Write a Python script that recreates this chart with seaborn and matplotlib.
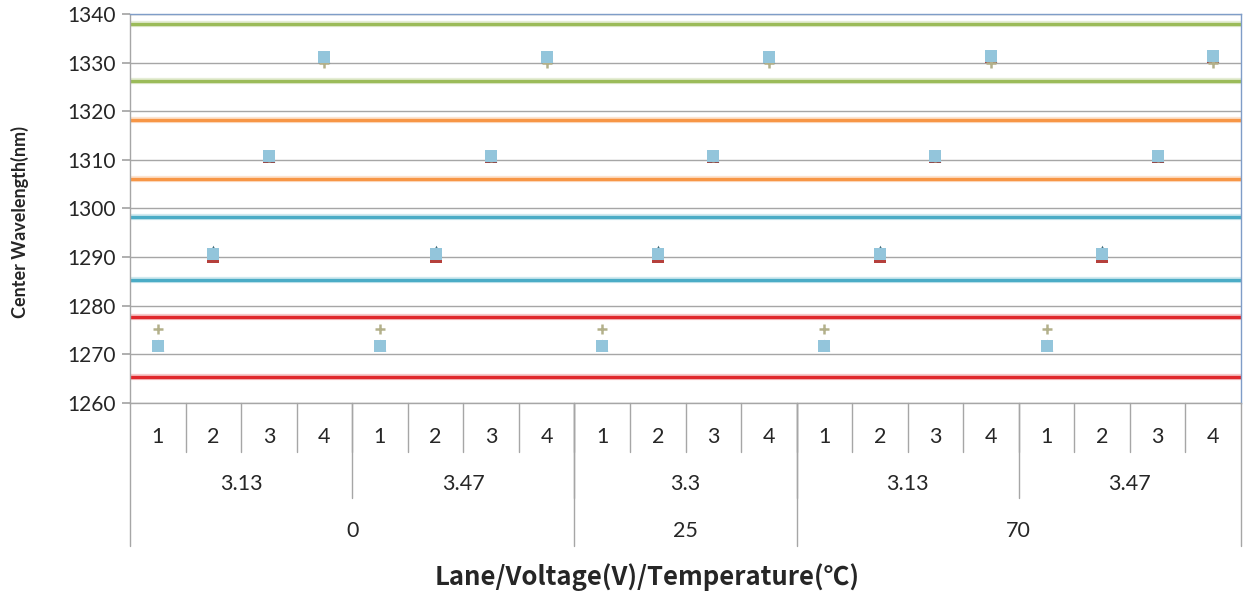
import matplotlib
matplotlib.use("Agg")
import matplotlib.pyplot as plt
import matplotlib.transforms as mtransforms
import numpy as np
import pandas as pd
import seaborn as sns

# ---- category axis (three levels) ----
lanes = ["1", "2", "3", "4"] * 5
voltages = ["3.13", "3.47", "3.3", "3.13", "3.47"]
voltage_span = [4, 4, 4, 4, 4]
temperatures = ["0", "25", "70"]
temperature_span = [8, 4, 8]

# ---- measured centre wavelengths (nm), one value per lane/voltage/temperature ----
sample_a = [1271.8, 1290.0, 1310.6, 1331.1, 1271.8, 1290.0, 1310.6, 1331.1,
            1271.7, 1290.0, 1310.5, 1331.1, 1271.8, 1290.0, 1310.6, 1331.1,
            1271.8, 1290.0, 1310.6, 1331.1]
sample_b = [1271.9, 1291.3, 1310.7, 1331.2, 1271.9, 1291.3, 1310.7, 1331.2,
            1271.9, 1291.3, 1310.7, 1331.2, 1271.9, 1291.3, 1310.7, 1331.3,
            1271.9, 1291.3, 1310.7, 1331.3]
sample_c = [1275.3, 1290.6, 1310.6, 1330.0, 1275.3, 1290.6, 1310.6, 1330.0,
            1275.3, 1290.6, 1310.6, 1330.0, 1275.3, 1290.6, 1310.6, 1330.0,
            1275.3, 1290.6, 1310.6, 1330.0]
sample_d = [1271.7, 1290.7, 1310.7, 1331.2, 1271.7, 1290.7, 1310.7, 1331.2,
            1271.7, 1290.7, 1310.7, 1331.2, 1271.7, 1290.7, 1310.7, 1331.3,
            1271.7, 1290.7, 1310.7, 1331.3]
series_names = ["A", "B", "C", "D"]

# ---- specification window per lane (nm) ----
limit_values = [1265.4, 1277.6, 1285.3, 1298.2, 1306.0, 1318.2, 1326.2, 1338.0]
limit_colors = ["#E0282C", "#E0282C", "#4BACC6", "#4BACC6",
                "#F79646", "#F79646", "#9BBB59", "#9BBB59"]

y_ticks = [1260, 1270, 1280, 1290, 1300, 1310, 1320, 1330, 1340]

sns.set_theme(style="white")
plt.rcParams["font.family"] = ["Lato", "DejaVu Sans"]

W, H = 1245, 592
fig = plt.figure(figsize=(W / 100, H / 100), dpi=100)
ax = fig.add_axes([130 / W, 1 - 403 / H, 1111 / W, 389 / H])

n = len(lanes)
pos = np.arange(n)
df = pd.DataFrame({
    "pos": np.tile(pos, 4),
    "wl": sample_a + sample_b + sample_c + sample_d,
    "series": np.repeat(series_names, n),
})

ax.set_ylim(1260, 1340)
ax.set_xlim(-0.5, n - 0.5)
ax.set_yticks(y_ticks)
ax.grid(axis="y", color="#A6A6A6", lw=1.0)
ax.set_axisbelow(True)

for v, c in zip(limit_values, limit_colors):
    ax.axhline(v, color=c, lw=4.5, alpha=0.25, zorder=2)
    ax.axhline(v, color=c, lw=2.4, zorder=2.1)

palette = {"A": "#B5403C", "B": "#3F6A78", "C": "#B3B08A", "D": "#93C5DB"}
markers = {"A": "s", "B": "^", "C": "+", "D": "s"}
sizes = {"A": 80, "B": 70, "C": 45, "D": 85}
order = {"A": 3, "B": 3.1, "C": 3.2, "D": 4}
for name in series_names:
    sub = df[df["series"] == name]
    if name == "C":
        sns.scatterplot(data=sub, x="pos", y="wl", ax=ax, marker="+",
                        color=palette[name], s=sizes[name], linewidth=1.8,
                        zorder=order[name], legend=False)
    else:
        sns.scatterplot(data=sub, x="pos", y="wl", ax=ax, marker=markers[name],
                        color=palette[name], s=sizes[name], linewidth=0,
                        zorder=order[name], legend=False)

ax.set_xlabel("")
ax.set_ylabel("")
ax.set_xticks([])
ax.tick_params(axis="y", which="both", left=True, length=6, color="#A6A6A6",
               labelsize=15, pad=4)

fig.text(20 / W, 1 - 222 / H, "Center Wavelength(nm)", rotation=90,
         ha="center", va="center", fontsize=13, fontweight="bold")

for side in ["top", "right"]:
    ax.spines[side].set_color("#7F9DC8")
    ax.spines[side].set_linewidth(1.0)
for side in ["left", "bottom"]:
    ax.spines[side].set_color("#A6A6A6")
    ax.spines[side].set_linewidth(1.0)

# ---- multi-level category labels ----
trans = mtransforms.blended_transform_factory(ax.transData, ax.transAxes)
sep_color = "#A6A6A6"


def ax_y(px):
    """Convert a figure pixel row (from the top) into an axes fraction."""
    return (403 - px) / 389


y_lane, y_volt, y_temp = ax_y(452), ax_y(498), ax_y(546)
lab_size = 15.5

for i, lab in enumerate(lanes):
    ax.text(i, ax_y(437), lab, transform=trans, ha="center", va="center",
            fontsize=lab_size)
for i in range(1, n):
    ax.plot([i - 0.5, i - 0.5], [0, y_lane], transform=trans, color=sep_color,
            lw=1, clip_on=False)

start = 0
for lab, span in zip(voltages, voltage_span):
    ax.text(start + span / 2 - 0.5, ax_y(484), lab, transform=trans,
            ha="center", va="center", fontsize=lab_size)
    if start > 0:
        ax.plot([start - 0.5, start - 0.5], [0, y_volt], transform=trans,
                color=sep_color, lw=1, clip_on=False)
    start += span

start = 0
for lab, span in zip(temperatures, temperature_span):
    ax.text(start + span / 2 - 0.5, ax_y(531), lab, transform=trans,
            ha="center", va="center", fontsize=lab_size)
    if start > 0:
        ax.plot([start - 0.5, start - 0.5], [0, y_temp], transform=trans,
                color=sep_color, lw=1, clip_on=False)
    start += span

for edge in [-0.5, n - 0.5]:
    ax.plot([edge, edge], [0, y_temp], transform=trans, color=sep_color,
            lw=1, clip_on=False)

fig.text(647 / W, 1 - 577 / H, "Lane/Voltage(V)/Temperature(℃)",
         ha="center", va="center", fontsize=18.5, fontweight="bold",
         family=["Noto Sans CJK SC", "DejaVu Sans"])

fig.savefig("out.png", dpi=100)
